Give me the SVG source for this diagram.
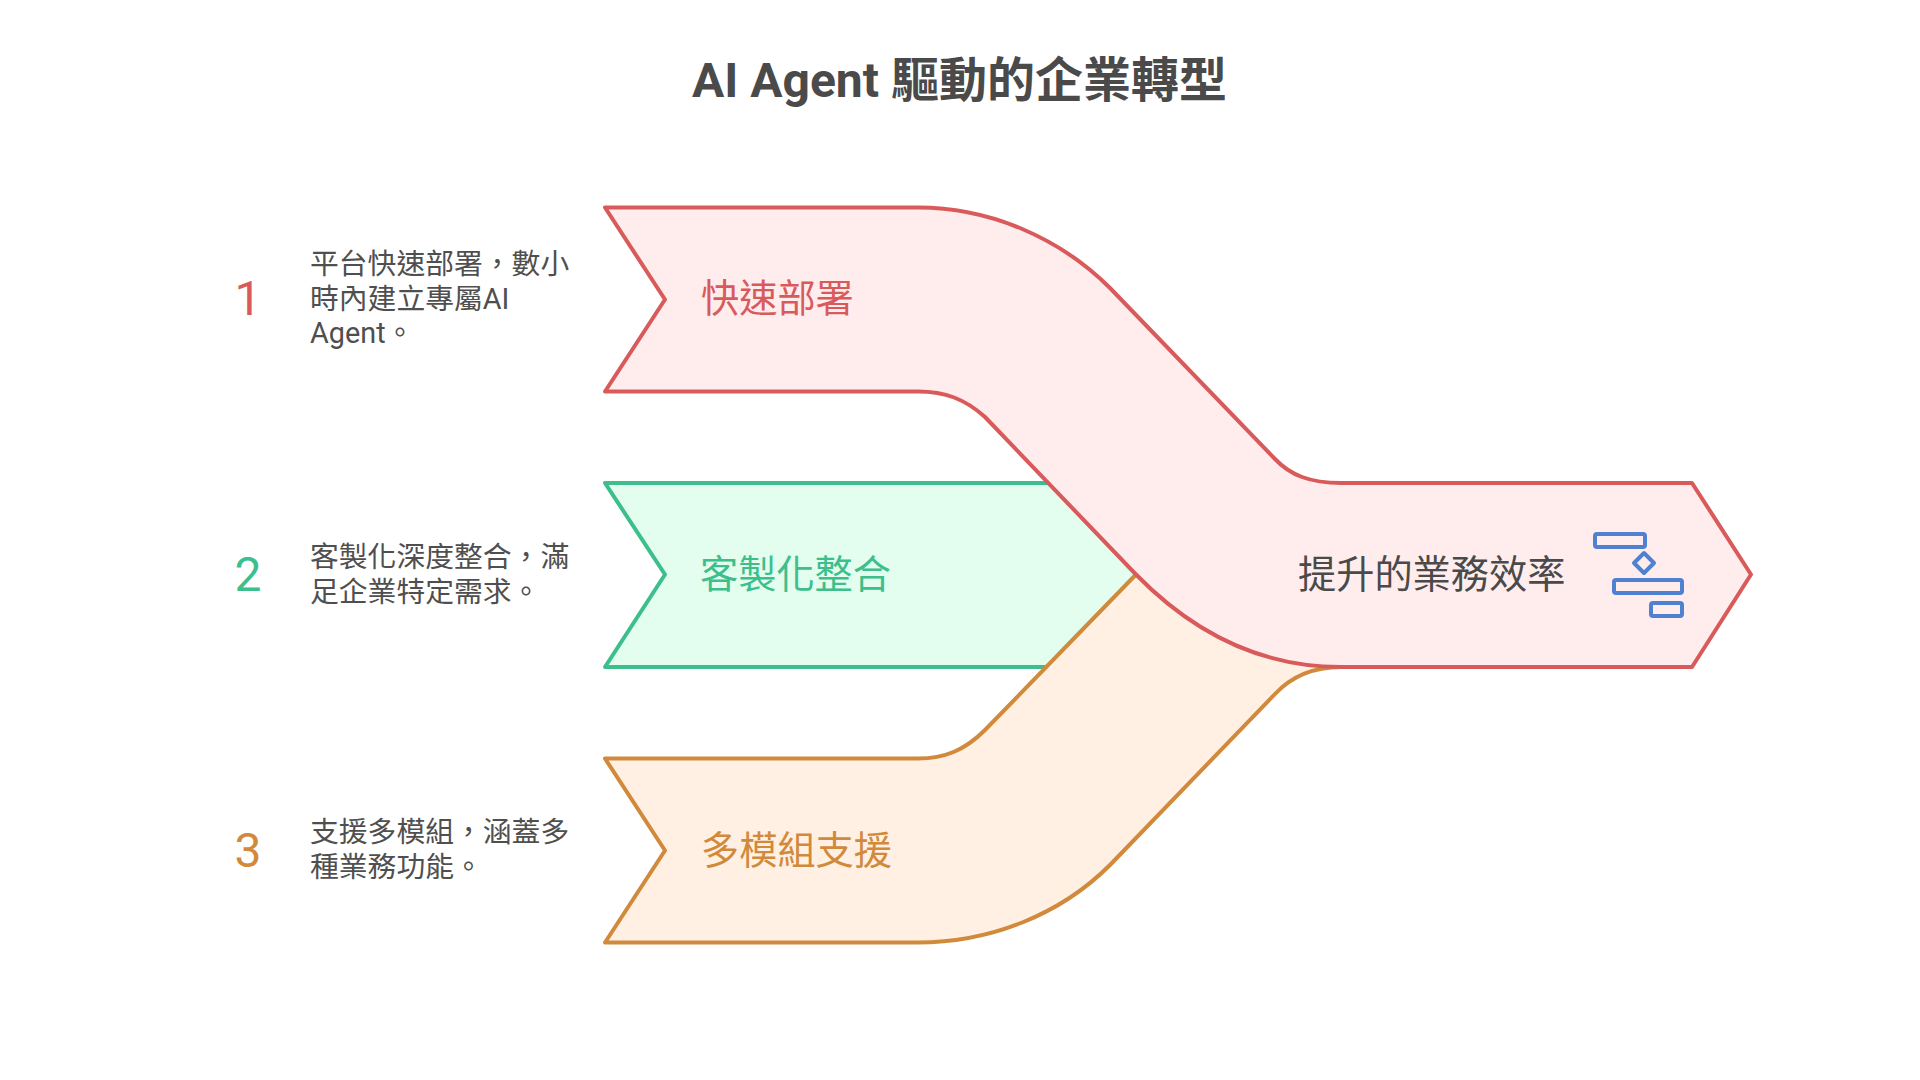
<svg xmlns="http://www.w3.org/2000/svg" width="1920" height="1080" viewBox="0 0 1920 1080">
<style>
text{font-family:"Roboto","Noto Sans CJK TC","Noto Sans CJK SC",sans-serif}
.title{font-size:48px;font-weight:700;fill:#4a4a4a}
.label{font-size:38.200px}
.desc{font-size:28.800px;fill:#4f4f4f}
.num{font-size:48px}
.shape{stroke-width:4;stroke-linejoin:round}
.icon{fill:none;stroke:#4f81d2;stroke-width:4;stroke-linejoin:round}
.red{stroke:#d95a5a;fill:#ffeded}.green{stroke:#3dbf8d;fill:#e3fdee}.orange{stroke:#d18a3c;fill:#fff0e3}
.tred{fill:#d95a5a}.tgreen{fill:#3dbf8d}.torange{fill:#d18a3c}
</style>
<rect width="1920" height="1080" fill="#ffffff"/>
<text id="title" class="title" x="959.500" y="97" text-anchor="middle">AI Agent 驅動的企業轉型</text>
<g id="connectors">
<path id="flow-2" class="shape green" d="M605 483H1060L1138 574.500L1060 667H605L665 574.500Z"/>
<path id="flow-3" class="shape orange" d="M605 758.500H918C945 758.500 965 750 985 730L1136 574.500L1250 640L1341 667C1310 667 1290 678 1275 694L1110 865C1060 915 990 942.500 918 942.500H605L665 850.500Z"/>
<path id="flow-1" class="shape red" d="M605 207.500H918C990 207.500 1060 238 1110 288L1275 459C1290 475 1310 483 1341 483H1692L1751 574.500L1692 667H1341C1270 667 1200 640 1136 574.500L985 417C965 399 945 391.500 918 391.500H605L665 299.500Z"/>
</g>
<g id="node-1">
<text class="num tred" x="248" y="315" text-anchor="middle">1</text>
<text class="desc"><tspan x="310" y="274">平台快速部署，數小</tspan><tspan x="310" y="309">時內建立專屬AI</tspan><tspan x="310" y="343">Agent。</tspan></text>
<text class="label tred" x="701" y="312">快速部署</text>
</g>
<g id="node-2">
<text class="num tgreen" x="248" y="591" text-anchor="middle">2</text>
<text class="desc"><tspan x="310" y="567">客製化深度整合，滿</tspan><tspan x="310" y="602">足企業特定需求。</tspan></text>
<text class="label tgreen" x="700" y="588">客製化整合</text>
</g>
<g id="node-3">
<text class="num torange" x="248" y="867" text-anchor="middle">3</text>
<text class="desc"><tspan x="310" y="842">支援多模組，涵蓋多</tspan><tspan x="310" y="877">種業務功能。</tspan></text>
<text class="label torange" x="701" y="864">多模組支援</text>
</g>
<g id="node-4">
<text class="label" fill="#4a4a4a" x="1298" y="588">提升的業務效率</text>
<g id="gantt-icon">
<rect class="icon" x="1595" y="534" width="50" height="13" rx="2"/>
<path class="icon" d="M1644 553L1654 563L1644 573L1634 563Z"/>
<rect class="icon" x="1614" y="580" width="68" height="13" rx="2"/>
<rect class="icon" x="1651" y="603" width="31" height="13" rx="2"/>
</g>
</g>
</svg>
